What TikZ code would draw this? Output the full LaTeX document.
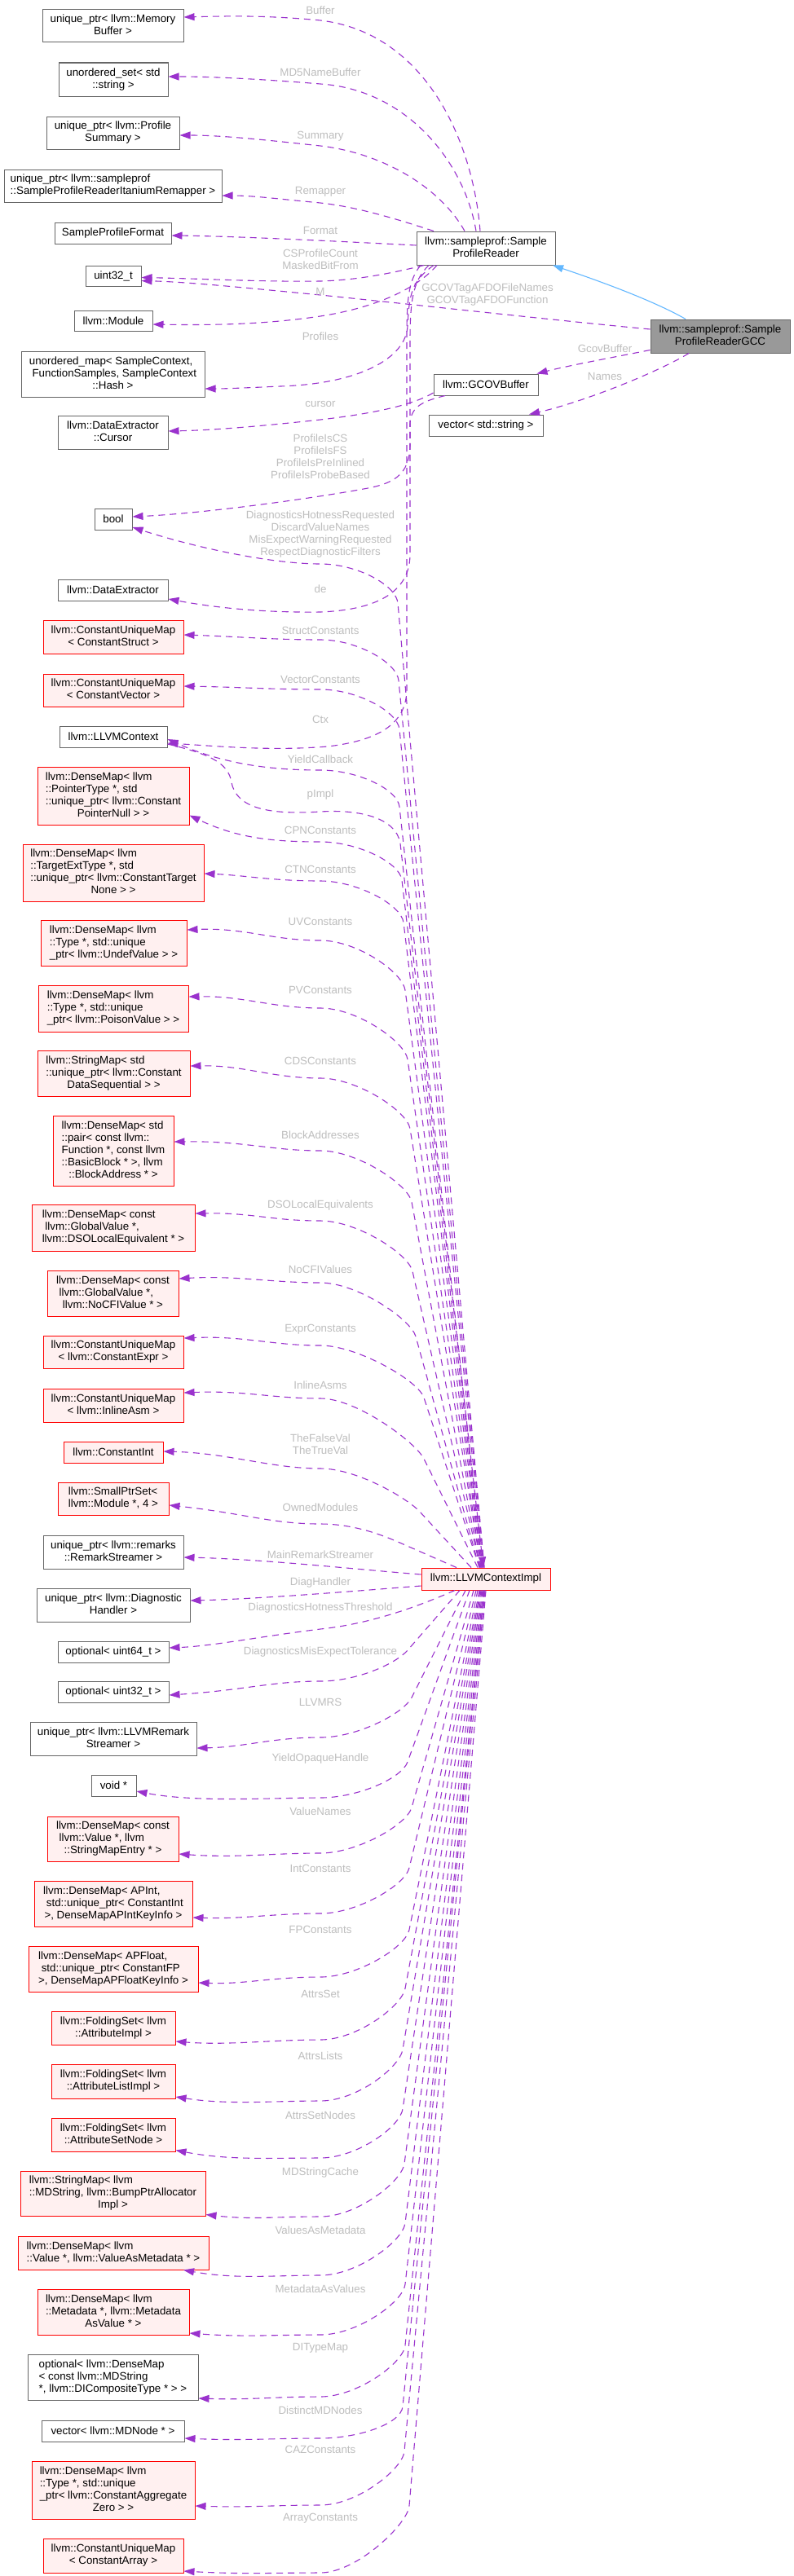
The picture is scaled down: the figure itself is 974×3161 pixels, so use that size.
\documentclass[tikz,border=0pt]{standalone}
\usepackage{fontspec}
\setmainfont{Liberation Sans}
\usetikzlibrary{arrows.meta,calc}
\definecolor{edgec}{HTML}{9A32CD}
\definecolor{inhc}{HTML}{63B8FF}
\definecolor{labelc}{HTML}{BEBEBE}
\definecolor{nborder}{HTML}{666666}
\definecolor{redfill}{HTML}{FFF0F0}
\definecolor{gcfill}{HTML}{999999}
\newcommand{\twl}[2]{\begin{tabular}{@{}l@{}}#1\\\multicolumn{1}{@{}c@{}}{#2}\end{tabular}}
\newcommand{\mkbox}[7]{\node[#1, minimum width={#4-#2}, minimum height={#5-#3}] (#6) at ({(#2+#4)/2},{(#3+#5)/2}) {#7};}
\newcommand{\impledge}[5]{\draw[cedge] (#1) -- (#2) .. controls ($(#2)!-22pt!(#1)$) and ($(#3)+(45,0)$) .. (#3) .. controls ($(#3)+(-60,0)$) and (#5) .. (#4);}
\tikzset{
  nbox/.style={draw=nborder, fill=white, line width=1pt, inner sep=0pt, font=\fontsize{13.33}{15}\selectfont, text=black},
  rbox/.style={nbox, draw=red, fill=redfill},
  gbox/.style={nbox, fill=gcfill},
  cedge/.style={draw=edgec, line width=1.1pt, dash pattern=on 8pt off 6pt, -{Triangle[length=13pt,width=9pt]}},
  inhedge/.style={draw=inhc, line width=1.1pt, -{Triangle[length=13pt,width=9pt]}},
  elabel/.style={text=labelc, font=\fontsize{13.33}{15}\selectfont, align=center, inner sep=0pt}
}
\begin{document}
\begin{tikzpicture}[x=1pt,y=-1pt]
\fill[white] (0,0) rectangle (974,3161);
\useasboundingbox (0,0) rectangle (974,3161);
% ---- left column nodes
\mkbox{nbox}{52}{12}{225}{52}{mb}{\twl{unique\_ptr< llvm::Memory}{Buffer >}}
\mkbox{nbox}{72}{77}{206}{118}{uset}{\twl{unordered\_set< std}{::string >}}
\mkbox{nbox}{57}{143}{220}{183}{psum}{\twl{unique\_ptr< llvm::Profile}{Summary >}}
\mkbox{nbox}{5}{208}{272}{248}{remap}{\twl{unique\_ptr< llvm::sampleprof}{::SampleProfileReaderItaniumRemapper >}}
\mkbox{nbox}{67}{273}{210}{299}{fmt}{SampleProfileFormat}
\mkbox{nbox}{105}{326}{173}{351}{u32}{uint32\_t}
\mkbox{nbox}{91}{381}{187}{406}{mod}{llvm::Module}
\mkbox{nbox}{26}{431}{251}{487}{umap}{\twl{unordered\_map< SampleContext,\\\ FunctionSamples, SampleContext}{::Hash >}}
\mkbox{nbox}{71}{510}{206}{551}{cursor}{\twl{llvm::DataExtractor}{::Cursor}}
\mkbox{nbox}{116}{624}{162}{650}{bool}{bool}
\mkbox{nbox}{71}{711}{206}{737}{dext}{llvm::DataExtractor}
\mkbox{rbox}{53}{761}{225}{802}{cstruct}{\twl{llvm::ConstantUniqueMap}{< ConstantStruct >}}
\mkbox{rbox}{53}{827}{225}{867}{cvec}{\twl{llvm::ConstantUniqueMap}{< ConstantVector >}}
\mkbox{nbox}{73}{891}{205}{917}{ctx}{llvm::LLVMContext}
\mkbox{rbox}{46}{941}{232}{1012}{cpn}{\twl{llvm::DenseMap< llvm\\::PointerType *, std\\::unique\_ptr< llvm::Constant}{PointerNull > >}}
\mkbox{rbox}{28}{1036}{250}{1106}{ctn}{\twl{llvm::DenseMap< llvm\\::TargetExtType *, std\\::unique\_ptr< llvm::ConstantTarget}{None > >}}
\mkbox{rbox}{50}{1129}{229}{1185}{uv}{\twl{llvm::DenseMap< llvm\\::Type *, std::unique}{\_ptr< llvm::UndefValue > >}}
\mkbox{rbox}{47}{1209}{231}{1266}{pv}{\twl{llvm::DenseMap< llvm\\::Type *, std::unique}{\_ptr< llvm::PoisonValue > >}}
\mkbox{rbox}{46}{1289}{233}{1345}{cds}{\twl{llvm::StringMap< std\\::unique\_ptr< llvm::Constant}{DataSequential > >}}
\mkbox{rbox}{65}{1369}{213}{1455}{ba}{\twl{llvm::DenseMap< std\\::pair< const llvm::\\Function *, const llvm\\::BasicBlock * >, llvm}{::BlockAddress * >}}
\mkbox{rbox}{39}{1478}{239}{1535}{dso}{\twl{llvm::DenseMap< const\\\ llvm::GlobalValue *,}{llvm::DSOLocalEquivalent * >}}
\mkbox{rbox}{58}{1559}{219}{1615}{nocfi}{\twl{llvm::DenseMap< const\\\ llvm::GlobalValue *,}{llvm::NoCFIValue * >}}
\mkbox{rbox}{53}{1639}{225}{1679}{cexpr}{\twl{llvm::ConstantUniqueMap}{< llvm::ConstantExpr >}}
\mkbox{rbox}{53}{1704}{225}{1745}{iasm}{\twl{llvm::ConstantUniqueMap}{< llvm::InlineAsm >}}
\mkbox{rbox}{78}{1769}{200}{1795}{cint}{llvm::ConstantInt}
\mkbox{rbox}{71}{1819}{207}{1859}{sps}{\twl{llvm::SmallPtrSet<}{llvm::Module *, 4 >}}
\mkbox{nbox}{53}{1884}{225}{1925}{rstream}{\twl{unique\_ptr< llvm::remarks}{::RemarkStreamer >}}
\mkbox{nbox}{45}{1949}{233}{1990}{dhand}{\twl{unique\_ptr< llvm::Diagnostic}{Handler >}}
\mkbox{nbox}{71}{2014}{207}{2040}{opt64}{optional< uint64\_t >}
\mkbox{nbox}{71}{2063}{207}{2089}{opt32}{optional< uint32\_t >}
\mkbox{nbox}{37}{2113}{241}{2154}{llvmrs}{\twl{unique\_ptr< llvm::LLVMRemark}{Streamer >}}
\mkbox{nbox}{112}{2178}{167}{2204}{voidp}{void *}
\mkbox{rbox}{58}{2229}{219}{2284}{vnames}{\twl{llvm::DenseMap< const\\\ llvm::Value *, llvm}{::StringMapEntry * >}}
\mkbox{rbox}{42}{2308}{236}{2364}{apint}{\twl{llvm::DenseMap< APInt,\\\ std::unique\_ptr< ConstantInt}{>, DenseMapAPIntKeyInfo >}}
\mkbox{rbox}{35}{2388}{243}{2444}{apfloat}{\twl{llvm::DenseMap< APFloat,\\\ std::unique\_ptr< ConstantFP}{>, DenseMapAPFloatKeyInfo >}}
\mkbox{rbox}{63}{2468}{215}{2509}{attrimpl}{\twl{llvm::FoldingSet< llvm}{::AttributeImpl >}}
\mkbox{rbox}{63}{2533}{215}{2575}{attrlist}{\twl{llvm::FoldingSet< llvm}{::AttributeListImpl >}}
\mkbox{rbox}{63}{2599}{215}{2640}{attrset}{\twl{llvm::FoldingSet< llvm}{::AttributeSetNode >}}
\mkbox{rbox}{25}{2664}{252}{2719}{mdstr}{\twl{llvm::StringMap< llvm\\::MDString, llvm::BumpPtrAllocator}{Impl >}}
\mkbox{rbox}{22}{2744}{256}{2785}{vam}{\twl{llvm::DenseMap< llvm}{::Value *, llvm::ValueAsMetadata * >}}
\mkbox{rbox}{46}{2809}{232}{2865}{mav}{\twl{llvm::DenseMap< llvm\\::Metadata *, llvm::Metadata}{AsValue * >}}
\mkbox{nbox}{34}{2889}{243}{2945}{ditm}{\twl{optional< llvm::DenseMap\\< const llvm::MDString}{*, llvm::DICompositeType * > >}}
\mkbox{nbox}{51}{2970}{226}{2996}{mdnode}{vector< llvm::MDNode * >}
\mkbox{rbox}{39}{3020}{239}{3091}{caz}{\twl{llvm::DenseMap< llvm\\::Type *, std::unique\\\_ptr< llvm::ConstantAggregate}{Zero > >}}
\mkbox{rbox}{53}{3115}{225}{3157}{carr}{\twl{llvm::ConstantUniqueMap}{< ConstantArray >}}
% ---- right nodes
\mkbox{nbox}{511}{284}{681}{325}{spr}{\twl{llvm::sampleprof::Sample}{ProfileReader}}
\mkbox{gbox}{798}{392}{969}{433}{gcc}{\twl{llvm::sampleprof::Sample}{ProfileReaderGCC}}
\mkbox{nbox}{532}{459}{660}{485}{gcovb}{llvm::GCOVBuffer}
\mkbox{nbox}{526}{509}{666}{535}{vecstr}{vector< std::string >}
\mkbox{rbox}{517}{1924}{675}{1951}{impl}{llvm::LLVMContextImpl}
% ---- SampleProfileReader / GCC edges
\draw[inhedge] ([xshift=-42.5pt]gcc.north) .. controls (800,368) and (730,343) .. ([xshift=82pt]spr.south);
\draw[cedge] ([xshift=-7pt]spr.north) .. controls (580,170) and (520,40) .. (393,25) .. controls (320,18) and (270,20) .. ([yshift=11pt]mb.east);
\draw[cedge] ([xshift=-12pt]spr.north) .. controls (570,200) and (500,110) .. (393,103) .. controls (320,97) and (260,94) .. ([yshift=3.5pt]uset.east);
\draw[cedge] ([xshift=-26pt]spr.north) .. controls (540,230) and (470,188) .. (393,179) .. controls (320,171) and (270,166) .. ([yshift=-3pt]psum.east);
\draw[cedge] ([xshift=-64pt]spr.north) .. controls (490,270) and (440,254) .. (393,249) .. controls (340,244) and (310,240) .. ([yshift=-12pt]remap.east);
\draw[cedge] ([yshift=3.5pt]spr.west) .. controls (450,298) and (300,290) .. ([yshift=-3pt]fmt.east);
\draw[cedge] ([xshift=-76pt]spr.south) .. controls (470,338) and (430,344) .. (393,345) .. controls (320,346) and (250,342) .. ([yshift=-2pt]u32.east);
\draw[cedge] ([yshift=8.5pt]gcc.west) .. controls (700,395) and (520,375) .. (393,362) .. controls (300,353) and (230,346) .. ([yshift=-6pt]u32.east);
\draw[cedge] ([xshift=-60pt]spr.south) .. controls (515,350) and (470,376) .. (393,388) .. controls (320,399) and (250,399) .. ([yshift=-4.5pt]mod.east);
\draw[cedge] ([xshift=-64pt]spr.south) .. controls (505,345) and (502,360) .. (500,400) .. controls (498,440) and (440,471) .. (344,474) .. controls (300,476) and (275,477) .. ([yshift=-18pt]umap.east);
\draw[cedge] ([xshift=-70pt]spr.south) .. controls (506,345) and (503,370) .. (503,420) -- (503,545) .. controls (503,585) and (480,594) .. (446,600) .. controls (380,612) and (250,630) .. ([yshift=3pt]bool.east);
\draw[cedge] ([xshift=-80pt]spr.south) .. controls (500,345) and (499,370) .. (499,420) -- (499,845) .. controls (499,885) and (470,908) .. (402,916) .. controls (330,922) and (260,915) .. ([yshift=-8pt]ctx.east);
\draw[cedge] ([yshift=-17pt]gcc.west) .. controls (760,437) and (700,448) .. ([xshift=-2pt]gcovb.north east);
\draw[cedge] ([xshift=-38.5pt]gcc.south) .. controls (810,455) and (720,492) .. ([xshift=53pt]vecstr.north);
\draw[cedge] ([yshift=-10pt]gcovb.west) .. controls (515,492) and (480,505) .. (393,515) .. controls (320,523) and (260,528) .. ([yshift=1.5pt]cursor.east);
\draw[cedge] ([xshift=-50pt]gcovb.south) .. controls (520,492) and (504,498) .. (503,520) -- (503,680) .. controls (503,722) and (470,748) .. (393,751) .. controls (320,752) and (260,745) .. ([yshift=-11pt]dext.east);
\draw[cedge] ([yshift=-9pt]ctx.east) .. controls (255,925) and (280,935) .. (284,960) .. controls (290,992) and (330,1000) .. (393,996) .. controls (440,993) and (486,1003) .. (491,1035) -- ([xshift=-3pt]impl.north);
% ---- LLVMContextImpl edges (upwards)
\impledge{[xshift=-2pt]impl.north}{488,740}{393,692}{[yshift=-10pt]bool.east}{240,672}
\impledge{[xshift=-2pt]impl.north}{489,835}{393,785}{[yshift=2.5pt]cstruct.east}{290,781}
\impledge{[xshift=-3pt]impl.north}{490,895}{393,846}{[yshift=5pt]cvec.east}{290,843}
\impledge{[xshift=-4pt]impl.north}{490,990}{393,945}{[yshift=-3pt]ctx.east}{275,938}
\impledge{[xshift=-4pt]impl.north}{493,1080}{393,1033}{[yshift=-24pt]cpn.east}{290,1028}
\impledge{[xshift=-5pt]impl.north}{495,1132}{393,1081}{[yshift=-1pt]ctn.east}{300,1074}
\impledge{[xshift=-5pt]impl.north}{497,1215}{393,1154}{[yshift=16pt]uv.east}{300,1138}
\impledge{[xshift=-6pt]impl.north}{500,1300}{393,1237}{[yshift=14.5pt]pv.east}{300,1222}
\impledge{[xshift=-6pt]impl.north}{503,1385}{393,1323}{[yshift=9pt]cds.east}{300,1307}
\impledge{[xshift=-7pt]impl.north}{505,1475}{393,1412}{[yshift=11pt]ba.east}{300,1400}
\impledge{[xshift=-7pt]impl.north}{506,1560}{393,1498}{[yshift=17.5pt]dso.east}{310,1488}
\impledge{[xshift=-8pt]impl.north}{510,1640}{393,1574}{[yshift=18pt]nocfi.east}{290,1565}
\impledge{[xshift=-8pt]impl.north}{520,1715}{393,1651}{[yshift=17pt]cexpr.east}{300,1639}
\impledge{[xshift=-10pt]impl.north}{520,1790}{393,1716}{[yshift=15.5pt]iasm.east}{300,1706}
\impledge{[xshift=-18pt]impl.north}{515,1855}{393,1802}{[yshift=1pt]cint.east}{280,1783}
\impledge{[xshift=-36pt]impl.north}{495,1895}{393,1870}{[yshift=-8pt]sps.east}{300,1857}
\draw[cedge] ([yshift=5.5pt]impl.west) .. controls (440,1926) and (320,1913) .. ([yshift=-6.5pt]rstream.east);
% ---- LLVMContextImpl edges (downwards)
\draw[cedge] ([yshift=-8.5pt]impl.west) .. controls (440,1952) and (320,1962) .. ([yshift=5.5pt]dhand.east);
\draw[cedge] ([xshift=-38pt]impl.south) .. controls (520,1968) and (460,1992) .. (393,1999) .. controls (320,2008) and (260,2020) .. ([yshift=5pt]opt64.east);
\impledge{[xshift=-32pt]impl.south}{500,2025}{393,2063}{[yshift=-4pt]opt32.east}{300,2074}
\impledge{[xshift=-25pt]impl.south}{505,2083}{393,2132}{[yshift=-11.5pt]llvmrs.east}{300,2144}
\impledge{[xshift=-20pt]impl.south}{500,2162}{393,2206}{[yshift=-7pt]voidp.east}{240,2212}
\impledge{[xshift=-15pt]impl.south}{505,2218}{393,2274}{[yshift=-18.5pt]vnames.east}{290,2280}
\impledge{[xshift=-12pt]impl.south}{502,2292}{393,2348}{[yshift=-17pt]apint.east}{300,2355}
\impledge{[xshift=-10pt]impl.south}{502,2368}{393,2426}{[yshift=-17pt]apfloat.east}{300,2435}
\impledge{[xshift=-8pt]impl.south}{497,2440}{393,2503}{[yshift=-16.5pt]attrimpl.east}{280,2510}
\impledge{[xshift=-7pt]impl.south}{494,2515}{393,2578}{[yshift=-19pt]attrlist.east}{280,2583}
\impledge{[xshift=-6pt]impl.south}{494,2588}{393,2648}{[yshift=-19pt]attrset.east}{280,2651}
\impledge{[xshift=-5pt]impl.south}{496,2655}{393,2720}{[yshift=-26pt]mdstr.east}{310,2724}
\impledge{[xshift=-4pt]impl.south}{497,2728}{393,2792}{[xshift=86pt]vam.south}{290,2797}
\impledge{[xshift=-3pt]impl.south}{497,2803}{393,2865}{[yshift=-26pt]mav.east}{300,2868}
\impledge{[xshift=-2pt]impl.south}{497,2878}{393,2941}{[yshift=-26pt]ditm.east}{310,2945}
\impledge{[xshift=-2pt]impl.south}{494,2953}{393,2992}{[yshift=-9pt]mdnode.east}{300,2995}
\impledge{[xshift=-1pt]impl.south}{496,3008}{393,3074}{[yshift=-19.5pt]caz.east}{310,3077}
\impledge{[xshift=0pt]impl.south}{502,3075}{393,3157}{[yshift=-19pt]carr.east}{300,3159}
% ---- edge labels
\node[elabel] (l01) at (393,13) {Buffer};
\node[elabel] (l02) at (393,89) {MD5NameBuffer};
\node[elabel] (l03) at (393,167) {Summary};
\node[elabel] (l04) at (393,235) {Remapper};
\node[elabel] (l05) at (393,283) {Format};
\node[elabel] (l06) at (393,318.5) {CSProfileCount\\MaskedBitFrom};
\node[elabel] (l07) at (393,358) {M};
\node[elabel] (l08) at (598,362) {GCOVTagAFDOFileNames\\GCOVTagAFDOFunction};
\node[elabel] (l09) at (393,413) {Profiles};
\node[elabel] (l10) at (742,428) {GcovBuffer};
\node[elabel] (l11) at (742,462) {Names};
\node[elabel] (l12) at (393,496) {cursor};
\node[elabel] (l13) at (393,560.5) {ProfileIsCS\\ProfileIsFS\\ProfileIsPreInlined\\ProfileIsProbeBased};
\node[elabel] (l14) at (393,655.5) {DiagnosticsHotnessRequested\\DiscardValueNames\\MisExpectWarningRequested\\RespectDiagnosticFilters};
\node[elabel] (l15) at (393,723) {de};
\node[elabel] (l16) at (393,774) {StructConstants};
\node[elabel] (l17) at (393,834) {VectorConstants};
\node[elabel] (l18) at (393,883) {Ctx};
\node[elabel] (l19) at (393,932) {YieldCallback};
\node[elabel] (l20) at (393,975) {pImpl};
\node[elabel] (l21) at (393,1019) {CPNConstants};
\node[elabel] (l22) at (393,1067) {CTNConstants};
\node[elabel] (l23) at (393,1131) {UVConstants};
\node[elabel] (l24) at (393,1215) {PVConstants};
\node[elabel] (l25) at (393,1302) {CDSConstants};
\node[elabel] (l26) at (393,1393) {BlockAddresses};
\node[elabel] (l27) at (393,1479) {DSOLocalEquivalents};
\node[elabel] (l28) at (393,1558) {NoCFIValues};
\node[elabel] (l29) at (393,1631) {ExprConstants};
\node[elabel] (l30) at (393,1700) {InlineAsms};
\node[elabel] (l31) at (393,1772.5) {TheFalseVal\\TheTrueVal};
\node[elabel] (l32) at (393,1850) {OwnedModules};
\node[elabel] (l33) at (393,1908) {MainRemarkStreamer};
\node[elabel] (l34) at (393,1942) {DiagHandler};
\node[elabel] (l35) at (393,1973) {DiagnosticsHotnessThreshold};
\node[elabel] (l36) at (393,2027) {DiagnosticsMisExpectTolerance};
\node[elabel] (l37) at (393,2089) {LLVMRS};
\node[elabel] (l38) at (393,2158) {YieldOpaqueHandle};
\node[elabel] (l39) at (393,2223) {ValueNames};
\node[elabel] (l40) at (393,2293) {IntConstants};
\node[elabel] (l41) at (393,2368) {FPConstants};
\node[elabel] (l42) at (393,2447) {AttrsSet};
\node[elabel] (l43) at (393,2523) {AttrsLists};
\node[elabel] (l44) at (393,2596) {AttrsSetNodes};
\node[elabel] (l45) at (393,2666) {MDStringCache};
\node[elabel] (l46) at (393,2737) {ValuesAsMetadata};
\node[elabel] (l47) at (393,2809) {MetadataAsValues};
\node[elabel] (l48) at (393,2881) {DITypeMap};
\node[elabel] (l49) at (393,2958) {DistinctMDNodes};
\node[elabel] (l50) at (393,3006) {CAZConstants};
\node[elabel] (l51) at (393,3090) {ArrayConstants};
\end{tikzpicture}
\end{document}
